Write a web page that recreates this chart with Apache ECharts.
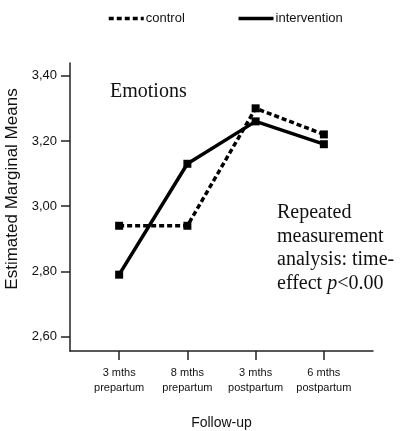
<!DOCTYPE html>
<html>
<head>
<meta charset="utf-8">
<script src="https://cdn.jsdelivr.net/npm/echarts@6/dist/echarts.min.js"></script>
<style>
  html, body { margin: 0; padding: 0; background: #fff; }
  #chart { width: 402px; height: 431px; }
</style>
</head>
<body>
<div id="chart"></div>
<script>
// Follow-up time points (x positions 1..4)
const categories = ['3 mths\nprepartum', '8 mths\nprepartum', '3 mths\npostpartum', '6 mths\npostpartum'];
// Estimated marginal means, emotions scale
const controlMeans = [2.94, 2.94, 3.30, 3.22];
const interventionMeans = [2.79, 3.13, 3.26, 3.19];
// Value axis tick labels
const yTicks = [2.6, 2.8, 3.0, 3.2, 3.4];
const xTicks = categories.map((c, i) => i + 1);

const toPoints = arr => arr.map((v, i) => [i + 1, v]);

const chart = echarts.init(document.getElementById('chart'), null, { renderer: 'canvas' });

const axisColor = '#222';
const sans = 'Liberation Sans, Arial, sans-serif';
const serif = 'Liberation Serif, Times New Roman, serif';

chart.setOption({
  animation: false,
  backgroundColor: '#fff',
  grid: { left: 70, right: 29, top: 63, bottom: 80, containLabel: false, outerBoundsMode: 'none' },
  legend: {
    top: 7,
    left: 102,
    itemWidth: 35,
    itemHeight: 14,
    itemGap: 52,
    itemStyle: { opacity: 0 },
    lineStyle: { width: 3.5 },
    textStyle: { fontFamily: sans, fontSize: 13, color: '#111', padding: [0, 0, 0, -3] },
    data: ['control', 'intervention']
  },
  xAxis: {
    type: 'value',
    min: 0.28,
    max: 4.72,
    name: 'Follow-up',
    nameLocation: 'middle',
    nameGap: 65,
    nameTextStyle: { fontFamily: sans, fontSize: 14, color: '#111' },
    axisLine: { show: true, onZero: false, lineStyle: { color: axisColor, width: 1.5 } },
    axisTick: { show: true, length: 9, customValues: xTicks, lineStyle: { color: axisColor, width: 1.5 } },
    axisLabel: {
      customValues: xTicks,
      margin: 14,
      fontFamily: sans,
      fontSize: 11,
      lineHeight: 15,
      color: '#111',
      formatter: v => categories[Math.round(v) - 1] || ''
    },
    splitLine: { show: false }
  },
  yAxis: {
    type: 'value',
    min: 2.556,
    max: 3.439,
    name: 'Estimated Marginal Means',
    nameLocation: 'middle',
    nameGap: 45,
    nameTextStyle: { fontFamily: sans, fontSize: 17, color: '#111', padding: [0, 0, 0, 36] },
    axisLine: { show: true, onZero: false, lineStyle: { color: axisColor, width: 1.5 } },
    axisTick: { show: true, length: 9, customValues: yTicks, lineStyle: { color: axisColor, width: 1.5 } },
    axisLabel: {
      customValues: yTicks,
      margin: 13,
      fontFamily: sans,
      fontSize: 13,
      color: '#111',
      formatter: v => v.toFixed(2).replace('.', ',')
    },
    splitLine: { show: false }
  },
  series: [
    {
      name: 'control',
      type: 'line',
      data: toPoints(controlMeans),
      symbol: 'rect',
      symbolSize: 8,
      itemStyle: { color: '#000' },
      lineStyle: { color: '#000', width: 3.5, type: [5, 3] },
      z: 3
    },
    {
      name: 'intervention',
      type: 'line',
      data: toPoints(interventionMeans),
      symbol: 'rect',
      symbolSize: 8,
      itemStyle: { color: '#000' },
      lineStyle: { color: '#000', width: 3.5, type: 'solid' },
      z: 4
    }
  ],
  graphic: [
    {
      type: 'text',
      left: 110,
      top: 82,
      style: { text: 'Emotions', font: '20px ' + serif, fill: '#111' }
    },
    {
      type: 'text',
      left: 277,
      top: 201,
      style: {
        text: 'Repeated\nmeasurement\nanalysis: time-\neffect {i|p}<0.00',
        font: '20px ' + serif,
        lineHeight: 23.5,
        fill: '#111',
        rich: { i: { font: 'italic 20px ' + serif, fill: '#111' } }
      }
    }
  ]
});
</script>
</body>
</html>
